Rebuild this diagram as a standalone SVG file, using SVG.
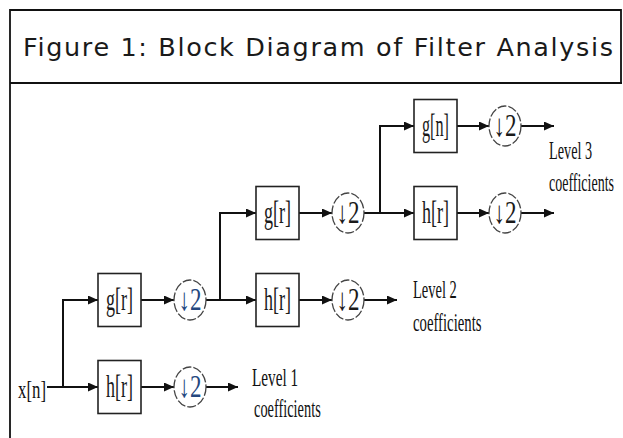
<svg xmlns="http://www.w3.org/2000/svg" width="623" height="438" viewBox="0 0 623 438">
  <defs>
    <marker id="arrow" markerUnits="userSpaceOnUse" markerWidth="10" markerHeight="9" refX="10" refY="4.5" orient="auto">
      <path d="M0,0 L10,4.5 L0,9 z" fill="#111"/>
    </marker>
    <style>
      .frame { stroke: #111; stroke-width: 1.8; fill: none; }
      .title { font-family: "DejaVu Sans", "Liberation Sans", sans-serif; font-size: 25.5px; fill: #1a1a1a; }
      .box { fill: #fff; stroke: #222; stroke-width: 1.6; }
      .ds { fill: #fff; stroke: #444; stroke-width: 1.3; stroke-dasharray: 9 2; }
      .lbl { font-family: "Liberation Serif", "DejaVu Serif", serif; font-size: 31px; fill: #1a1a1a; text-anchor: middle; }
      .dn { font-family: "Liberation Serif", "DejaVu Serif", serif; font-size: 31px; fill: #1a1a1a; text-anchor: middle; }
      .dn.blue { fill: #24477e; }
      .note { font-family: "Liberation Serif", "DejaVu Serif", serif; font-size: 25px; fill: #111; }
      .conn path, .conn line { stroke: #111; stroke-width: 2; fill: none; marker-end: url(#arrow); }
    </style>
  </defs>

  <rect width="623" height="438" fill="#fff"/>

  <!-- frame and title row -->
  <g id="frame">
    <path class="frame" d="M10,438 V10 H621 V83"/>
    <line class="frame" x1="10" y1="83" x2="622" y2="83" stroke-width="2.2"/>
    <text class="title" x="23" y="56" textLength="590" lengthAdjust="spacing">Figure 1: Block Diagram of Filter Analysis</text>
  </g>

  <!-- connectors -->
  <g id="connectors" class="conn">
    <line x1="47" y1="387" x2="98" y2="387"/>
    <path d="M63,387 V300 H98"/>
    <line x1="141" y1="387" x2="174" y2="387"/>
    <line x1="206" y1="387" x2="238" y2="387"/>
    <line x1="141" y1="300" x2="174" y2="300"/>
    <line x1="206" y1="300" x2="256" y2="300"/>
    <path d="M220,300 V213 H256"/>
    <line x1="299" y1="300" x2="332" y2="300"/>
    <line x1="364" y1="300" x2="397" y2="300"/>
    <line x1="299" y1="213" x2="332" y2="213"/>
    <line x1="364" y1="213" x2="414" y2="213"/>
    <path d="M380,213 V126 H414"/>
    <line x1="457" y1="126" x2="489" y2="126"/>
    <line x1="521" y1="126" x2="554" y2="126"/>
    <line x1="457" y1="213" x2="489" y2="213"/>
    <line x1="521" y1="213" x2="554" y2="213"/>
  </g>

  <!-- input -->
  <g id="input">
    <text class="note" x="18" y="398" font-size="31" textLength="28" lengthAdjust="spacingAndGlyphs">x[n]</text>
  </g>

  <!-- level 1 -->
  <g id="g1">
    <rect class="box" x="98" y="273.5" width="43" height="53"/>
    <text class="lbl" x="119.5" y="310" textLength="27" lengthAdjust="spacingAndGlyphs">g[r]</text>
  </g>
  <g id="h1">
    <rect class="box" x="98" y="360.5" width="43" height="53"/>
    <text class="lbl" x="119.5" y="397" textLength="27" lengthAdjust="spacingAndGlyphs">h[r]</text>
  </g>
  <g id="d1g">
    <ellipse class="ds" cx="190" cy="300" rx="16" ry="20"/>
    <text class="dn blue" x="190" y="310" textLength="23" lengthAdjust="spacingAndGlyphs">↓2</text>
  </g>
  <g id="d1h">
    <ellipse class="ds" cx="190" cy="387" rx="16" ry="20"/>
    <text class="dn blue" x="190" y="397" textLength="23" lengthAdjust="spacingAndGlyphs">↓2</text>
  </g>
  <g id="out1">
    <text class="note" transform="translate(252,386) scale(0.61,1)">Level 1</text>
    <text class="note" transform="translate(254,417) scale(0.575,1)">coefficients</text>
  </g>

  <!-- level 2 -->
  <g id="g2">
    <rect class="box" x="256" y="186.5" width="43" height="53"/>
    <text class="lbl" x="277.5" y="223" textLength="27" lengthAdjust="spacingAndGlyphs">g[r]</text>
  </g>
  <g id="h2">
    <rect class="box" x="256" y="273.5" width="43" height="53"/>
    <text class="lbl" x="277.5" y="310" textLength="27" lengthAdjust="spacingAndGlyphs">h[r]</text>
  </g>
  <g id="d2g">
    <ellipse class="ds" cx="348" cy="213" rx="16" ry="20"/>
    <text class="dn" x="348" y="223" textLength="23" lengthAdjust="spacingAndGlyphs">↓2</text>
  </g>
  <g id="d2h">
    <ellipse class="ds" cx="348" cy="300" rx="16" ry="20"/>
    <text class="dn" x="348" y="310" textLength="23" lengthAdjust="spacingAndGlyphs">↓2</text>
  </g>
  <g id="out2">
    <text class="note" transform="translate(413,298) scale(0.58,1)">Level 2</text>
    <text class="note" transform="translate(413,331) scale(0.59,1)">coefficients</text>
  </g>

  <!-- level 3 -->
  <g id="g3">
    <rect class="box" x="414" y="99.5" width="43" height="53"/>
    <text class="lbl" x="435.5" y="136" textLength="27" lengthAdjust="spacingAndGlyphs">g[n]</text>
  </g>
  <g id="h3">
    <rect class="box" x="414" y="186.5" width="43" height="53"/>
    <text class="lbl" x="435.5" y="223" textLength="27" lengthAdjust="spacingAndGlyphs">h[r]</text>
  </g>
  <g id="d3g">
    <ellipse class="ds" cx="505" cy="126" rx="16" ry="20"/>
    <text class="dn" x="505" y="136" textLength="23" lengthAdjust="spacingAndGlyphs">↓2</text>
  </g>
  <g id="d3h">
    <ellipse class="ds" cx="505" cy="213" rx="16" ry="20"/>
    <text class="dn" x="505" y="223" textLength="23" lengthAdjust="spacingAndGlyphs">↓2</text>
  </g>
  <g id="out3">
    <text class="note" transform="translate(549,159) scale(0.57,1)">Level 3</text>
    <text class="note" transform="translate(549,191) scale(0.56,1)">coefficients</text>
  </g>
</svg>
